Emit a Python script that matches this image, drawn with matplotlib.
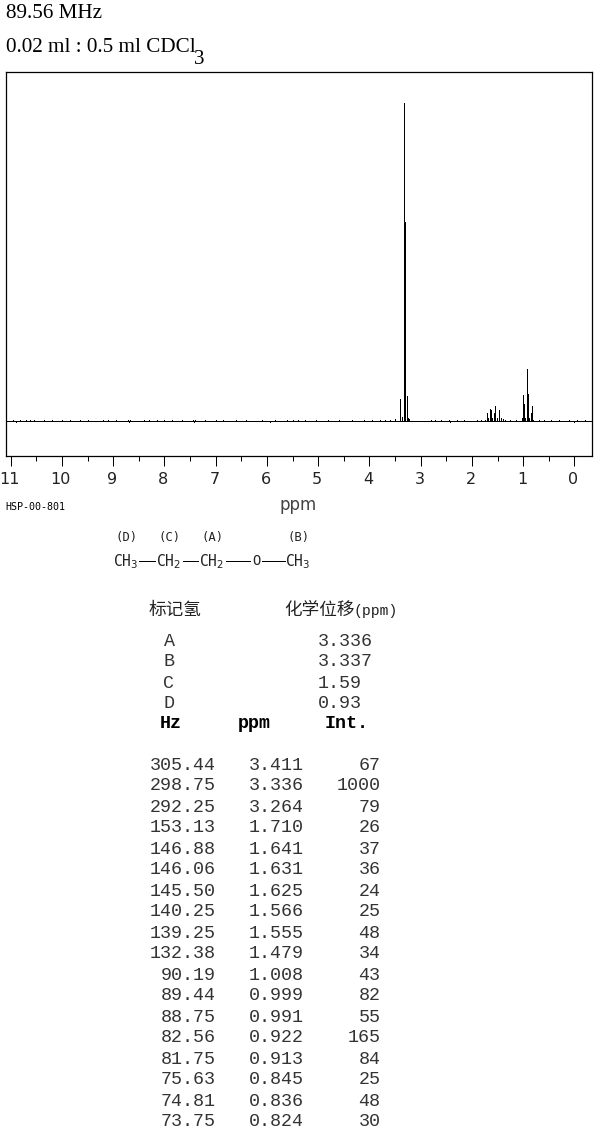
import numpy as np
import matplotlib
matplotlib.use('Agg')
import matplotlib.pyplot as plt
from matplotlib.transforms import ScaledTranslation

W = 595
H = 1134
CJK = ['Noto Sans CJK SC', 'DejaVu Sans']

# peak table
hz = [305.44, 298.75, 292.25, 153.13, 146.88, 146.06, 145.50, 140.25, 139.25,
      132.38, 90.19, 89.44, 88.75, 82.56, 81.75, 75.63, 74.81, 73.75]
ppm = [3.411, 3.336, 3.264, 1.710, 1.641, 1.631, 1.625, 1.566, 1.555,
       1.479, 1.008, 0.999, 0.991, 0.922, 0.913, 0.845, 0.836, 0.824]
inten = [67, 1000, 79, 26, 37, 36, 24, 25, 48, 34, 43, 82, 55, 165, 84, 25, 48, 30]

# shoulder of the main line and feet of the multiplets, as drawn in the spectrum
extra_ppm = [3.312, 3.395, 3.375, 3.30, 3.25, 3.23, 1.74, 1.69, 1.60, 1.52, 1.44,
             1.40, 1.03, 0.96, 0.88, 0.80]
extra_int = [625, 70, 12, 25, 9, 5, 4, 9, 9, 9, 8, 6, 9, 9, 9, 4]

# small ticks on the baseline
noise_ppm = [10.95, 10.82, 10.7, 10.62, 10.55, 10.35, 10.2, 10.0, 9.85, 9.65, 9.5,
             9.2, 9.1, 8.95, 8.72, 8.68, 8.4, 8.3, 8.15, 8.0, 7.85, 7.65, 7.45, 7.4,
             7.2, 7.0, 6.85, 6.6, 6.4, 6.1, 5.85, 5.6, 5.5, 5.4, 5.25, 5.05, 4.8,
             4.6, 4.35, 4.1, 3.95, 3.8, 3.7, 3.6, 3.5, 2.8, 2.72, 2.6, 2.45, 2.3,
             2.15, 1.9, 1.82, 1.35, 1.25, 1.15, 0.7, 0.6, 0.45, 0.3, 0.1, -0.05, -0.2]
noise_int = [3, 3, 2, 3, 2, 3, 2, 3, 2, 2, 3, 2, 3, 2, 4, 4, 2, 3, 2, 3, 2, 2, 3, 4,
             2, 2, 3, 2, 2, 3, 2, 3, 3, 2, 2, 3, 2, 2, 3, 2, 3, 4, 3, 3, 5, 2, 2, 3,
             2, 3, 2, 3, 3, 4, 4, 3, 3, 2, 3, 2, 3, 3, 3]
dip_ppm = [10.9, 8.7, 7.42, 5.95, 2.42, 0.0]
dip_int = [-4, -4, -4, -4, -4, -4]

major_ticks = list(range(0, 12))
minor_ticks = [0.5, 1.5, 2.5, 3.5, 4.5, 5.5, 6.5, 7.5, 8.5, 9.5, 10.5]

labels = ['A', 'B', 'C', 'D']
shifts = ['3.336', '3.337', '1.59', '0.93']
groups = ['(D)', '(C)', '(A)', '(B)']

fig = plt.figure(figsize=(W / 100, H / 100), dpi=100)

# overlay in pixel coordinates for the text blocks
bg = fig.add_axes([0, 0, 1, 1])
bg.set_xlim(0, W)
bg.set_ylim(H, 0)
bg.axis('off')

ax = fig.add_axes([6 / W, 1 - 456 / H, 586 / W, 384 / H])
ax.set_xlim(11.092, -0.342)
ax.set_ylim(-110, 1097)
LINE = dict(color='k', lw=0.72, antialiased=False)
ax.hlines(0, 11.092, -0.342, **LINE)
ax.vlines(noise_ppm, 0, noise_int, **LINE)
ax.vlines(dip_ppm, 0, dip_int, **LINE)
ax.vlines(extra_ppm, 0, extra_int, **LINE)
ax.vlines(ppm, 0, inten, **LINE)

ax.set_yticks([])
ax.set_xticks(major_ticks)
ax.set_xticks(minor_ticks, minor=True)
ax.tick_params(axis='x', which='major', length=7.2, width=0.72, pad=4, labelsize=11.5)
ax.tick_params(axis='x', which='minor', length=3.6, width=0.72)
for s in ax.spines.values():
    s.set_linewidth(0.9)
shift = ScaledTranslation(-1.2 / 100, 0, fig.dpi_scale_trans)
for t in ax.get_xticklabels():
    t.set_family('DejaVu Sans')
    t.set_color('#222222')
    t.set_transform(t.get_transform() + shift)

# header
bg.text(6, 13, '89.56 MHz', family='Liberation Serif', fontsize=15.2, va='center')
bg.text(6, 48, '0.02 ml : 0.5 ml CDCl', family='Liberation Serif', fontsize=15.2, va='center')
bg.text(194, 59, '3', family='Liberation Serif', fontsize=15.2, va='center')

bg.text(298, 505, 'ppm', family='DejaVu Sans', fontsize=12, ha='center', va='center', color='#444444')
bg.text(5, 507, 'HSP-00-801', family='DejaVu Sans Mono', fontsize=7.2, va='center')

# structure
mono = 'DejaVu Sans Mono'
for x, g in zip([127, 170, 213, 299], groups):
    bg.text(x, 537, g, family=mono, fontsize=8.8, ha='center', va='center', color='#222222')
for x, s in zip([126, 169, 212, 298], ['CH$_3$', 'CH$_2$', 'CH$_2$', 'CH$_3$']):
    bg.text(x, 562, s, family=mono, fontsize=10.5, ha='center', va='center',
            math_fontfamily='dejavusans', color='#222222')
bg.text(256, 561, 'O', family=mono, fontsize=10, ha='center', va='center', color='#222222')
for x0, x1 in [(139, 155), (183, 198), (226, 250), (262, 285)]:
    bg.plot([x0, x1], [561, 561], color='k', lw=0.72, antialiased=False)

# assignment table
bg.text(149, 610, '标记氢', family=CJK, fontsize=12.7, va='center', color='#222222')
bg.text(284, 610, '化学位移', family=CJK, fontsize=12.7, va='center', color='#222222')
bg.text(354, 611, '(ppm)', family='Liberation Mono', fontsize=10.6, va='center', color='#222222')

TXT = dict(family='Liberation Mono', fontsize=13.2, va='center', color='#333333')
for i, (a, b) in enumerate(zip(labels, shifts)):
    y = 641 + 21 * i
    bg.text(169, y, a, ha='center', **TXT)
    bg.text(318, y, b, ha='left', **TXT)

BOLD = dict(family='Liberation Mono', fontsize=13.2, va='center', fontweight='bold')
bg.text(171, 724, 'Hz', ha='center', **BOLD)
bg.text(254, 724, 'ppm', ha='center', **BOLD)
bg.text(347, 724, 'Int.', ha='center', **BOLD)

for i in range(len(hz)):
    y = 765 + 21 * i
    bg.text(215.5, y, f'{hz[i]:.2f}', ha='right', **TXT)
    bg.text(303.5, y, f'{ppm[i]:.3f}', ha='right', **TXT)
    bg.text(380.5, y, f'{inten[i]}', ha='right', **TXT)

fig.savefig('out.png', dpi=100)
